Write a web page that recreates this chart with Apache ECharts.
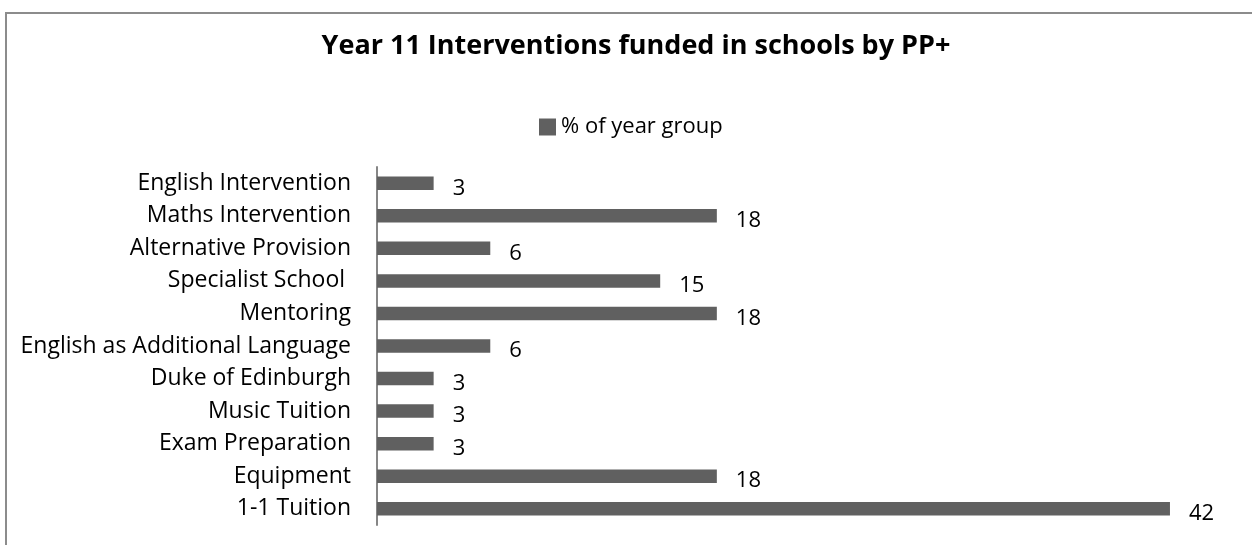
<!DOCTYPE html>
<html>
<head>
<meta charset="utf-8">
<script src="https://cdn.jsdelivr.net/npm/echarts@6/dist/echarts.min.js"></script>
<style>
  html, body { margin: 0; padding: 0; background: #fff; }
  #chart { width: 1252px; height: 545px; }
</style>
</head>
<body>
<div id="chart"></div>
<script>
// Interventions (top to bottom) and share of the year group
const categories = [
  'English Intervention',
  'Maths Intervention',
  'Alternative Provision',
  'Specialist School ',
  'Mentoring',
  'English as Additional Language',
  'Duke of Edinburgh',
  'Music Tuition',
  'Exam Preparation',
  'Equipment',
  '1-1 Tuition'
];
const percentOfYearGroup = [3, 18, 6, 15, 18, 6, 3, 3, 3, 18, 42];
const seriesName = '% of year group';
const chartTitle = 'Year 11 Interventions funded in schools by PP+';

const FONT = '"Open Sans", Lato, sans-serif';
const chart = echarts.init(document.getElementById('chart'), null, { renderer: 'canvas' });

chart.setOption({
  animation: false,
  backgroundColor: '#ffffff',
  graphic: [{
    type: 'rect',
    shape: { x: 6, y: 13, width: 1400, height: 700 },
    style: { fill: 'none', stroke: '#8c8c8c', lineWidth: 2 },
    silent: true
  }],
  title: {
    text: chartTitle,
    left: 631,
    textAlign: 'center',
    top: 28,
    textStyle: { fontFamily: FONT, fontWeight: 'bold', fontSize: 27, color: '#000' }
  },
  legend: {
    data: [seriesName],
    left: 534,
    top: 111,
    icon: 'rect',
    itemWidth: 17,
    itemHeight: 17,
    itemGap: 6,
    textStyle: { fontFamily: FONT, fontSize: 22, color: '#000' }
  },
  grid: { left: 377, top: 167, right: 25.4, bottom: 20, containLabel: false },
  xAxis: {
    type: 'value',
    min: 0,
    max: 45,
    show: false,
    splitLine: { show: false }
  },
  yAxis: {
    type: 'category',
    data: categories,
    inverse: true,
    axisLine: { show: true, lineStyle: { color: '#868686', width: 2 } },
    axisTick: { show: false },
    axisLabel: { fontFamily: FONT, fontSize: 23, color: '#000', margin: 26 }
  },
  series: [{
    name: seriesName,
    type: 'bar',
    data: percentOfYearGroup,
    barWidth: 13.5,
    itemStyle: { color: '#606060' },
    label: {
      show: true,
      position: 'right',
      distance: 19,
      offset: [0, 5],
      fontFamily: FONT,
      fontSize: 22,
      color: '#000'
    }
  }]
});
</script>
</body>
</html>
